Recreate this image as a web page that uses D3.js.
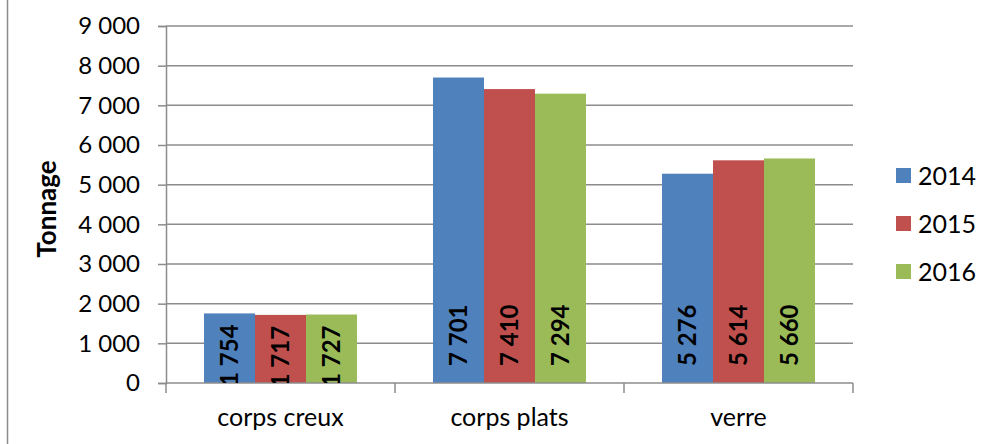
<!DOCTYPE html>
<html>
<head>
<meta charset="utf-8">
<script src="https://cdn.jsdelivr.net/npm/d3@7"></script>
<style>
  body { margin: 0; background: #fff; }
  svg { display: block; font-family: Lato, "Open Sans", sans-serif; }
</style>
</head>
<body>
<div id="chart"></div>
<script>
var categories = ["corps creux", "corps plats", "verre"];
var years = ["2014", "2015", "2016"];
var values2014 = [1754, 7701, 5276];
var values2015 = [1717, 7410, 5614];
var values2016 = [1727, 7294, 5660];
var yTicks = [0, 1000, 2000, 3000, 4000, 5000, 6000, 7000, 8000, 9000];
var colors = ["#4f81bd", "#c0504d", "#9bbb59"];

var series = [values2014, values2015, values2016];
var rows = [];
categories.forEach(function (c, i) {
  years.forEach(function (y, j) {
    rows.push({ cat: c, year: y, value: series[j][i], color: colors[j] });
  });
});

var W = 981, H = 444;
var plotL = 166, plotR = 853, plotT = 26, plotB = 383;
var fr = d3.formatLocale({ decimal: ",", thousands: "\u00a0", grouping: [3], currency: ["", " €"] });
var fmt = fr.format(",d");
var grey = "#8c8c8c";

var svg = d3.select("#chart").append("svg")
  .attr("width", W).attr("height", H);

// frame edge on the left
svg.append("line")
  .attr("x1", 7.5).attr("x2", 7.5).attr("y1", 0).attr("y2", H)
  .attr("stroke", grey).attr("stroke-width", 1.5);

var x0 = d3.scaleBand().domain(categories).range([plotL, plotR]);
var x1 = d3.scaleBand().domain(years)
  .range([x0.bandwidth() * 0.166, x0.bandwidth() * 0.834]);
var y = d3.scaleLinear().domain([0, 9000]).range([plotB, plotT]);

// grid lines
svg.append("g").selectAll("line").data(yTicks.slice(1)).join("line")
  .attr("x1", plotL).attr("x2", plotR)
  .attr("y1", function (d) { return y(d); }).attr("y2", function (d) { return y(d); })
  .attr("stroke", grey).attr("stroke-width", 1.5);

// y axis
var yAxis = svg.append("g").attr("transform", "translate(" + plotL + ",0)")
  .call(d3.axisLeft(y).tickValues(yTicks).tickSize(8).tickPadding(18).tickFormat(fmt));
yAxis.select(".domain").attr("stroke", grey).attr("stroke-width", 1.5);
yAxis.selectAll(".tick line").attr("stroke", grey).attr("stroke-width", 1.5);
yAxis.selectAll(".tick text").attr("fill", "#000")
  .style("font-size", "24px").style("font-family", "Lato, sans-serif");

// bars
svg.append("g").selectAll("rect").data(rows).join("rect")
  .attr("x", function (d) { return x0(d.cat) + x1(d.year); })
  .attr("width", x1.bandwidth())
  .attr("y", function (d) { return y(d.value); })
  .attr("height", function (d) { return plotB - y(d.value); })
  .attr("fill", function (d) { return d.color; });

// x axis
var xAxis = svg.append("g").attr("transform", "translate(0," + plotB + ")");
xAxis.append("line").attr("x1", plotL).attr("x2", plotR)
  .attr("stroke", grey).attr("stroke-width", 1.5);
var bounds = categories.map(function (c) { return x0(c); }).concat([plotR]);
xAxis.selectAll(".tk").data(bounds).join("line").attr("class", "tk")
  .attr("x1", function (d) { return d; }).attr("x2", function (d) { return d; })
  .attr("y1", 0).attr("y2", 10)
  .attr("stroke", grey).attr("stroke-width", 1.5);
xAxis.selectAll("text").data(categories).join("text")
  .attr("x", function (d) { return x0(d) + x0.bandwidth() / 2; })
  .attr("y", 43)
  .attr("text-anchor", "middle")
  .style("font-size", "25px")
  .text(function (d) { return d; });

// value labels, clipped to plot area
svg.append("clipPath").attr("id", "plotclip").append("rect")
  .attr("x", plotL).attr("y", plotT).attr("width", plotR - plotL).attr("height", plotB - plotT);
var labG = svg.append("g").attr("clip-path", "url(#plotclip)");
labG.selectAll("text").data(rows).join("text")
  .style("font-size", "24px").style("font-weight", "bold")
  .attr("dy", "0.36em")
  .text(function (d) { return fmt(d.value); })
  .each(function (d) {
    var len = this.getComputedTextLength();
    var cx = x0(d.cat) + x1(d.year) + x1.bandwidth() / 2;
    var topY = Math.max(y(d.value) + 11, plotB - 17 - len);
    d3.select(this).attr("text-anchor", "end")
      .attr("transform", "translate(" + cx + "," + topY + ") rotate(-90)");
  });

// axis title
svg.append("text")
  .attr("transform", "translate(56,209) rotate(-90)")
  .attr("text-anchor", "middle")
  .style("font-size", "26px").style("font-weight", "bold")
  .text("Tonnage");

// legend
var leg = svg.append("g").selectAll("g").data(years).join("g")
  .attr("transform", function (d, i) { return "translate(896," + (168 + i * 48) + ")"; });
leg.append("rect").attr("width", 15).attr("height", 15)
  .attr("fill", function (d, i) { return colors[i]; });
leg.append("text").attr("x", 22).attr("y", 17)
  .style("font-size", "25px")
  .text(function (d) { return d; });
</script>
</body>
</html>
